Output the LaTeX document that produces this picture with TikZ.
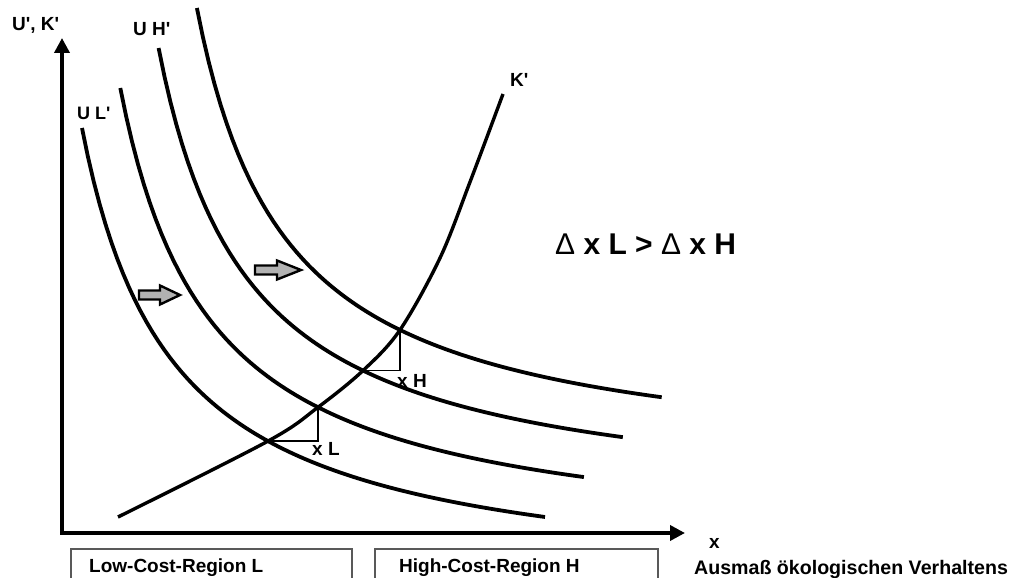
\documentclass[tikz,border=0pt]{standalone}
\usepackage{fontspec}
\setmainfont[Ligatures=NoCommon]{Liberation Sans}
\usetikzlibrary{arrows.meta}
\newcommand{\ap}{\textquotesingle}
\tikzset{
  curve/.style={line width=3.8pt},
  axis/.style={line width=3.6pt},
  tri/.style={line width=1.3pt},
  blockarrow/.style={fill=black!30, draw=black, line width=2.4pt, line join=miter},
  region/.style={draw=black!65, line width=1.5pt},
  lab/.style={anchor=base west, inner sep=0pt, font=\fontsize{19}{22}\selectfont\bfseries},
  biglab/.style={anchor=base west, inner sep=0pt, font=\fontsize{30}{34}\selectfont\bfseries},
}
\begin{document}
\begin{tikzpicture}[x=1pt,y=-1pt]
\useasboundingbox (0,0) rectangle (1013,578);
% axes
\draw[axis, {Triangle[length=15pt,width=15pt]}-{Triangle[length=15pt,width=15pt]}]
  (62,38) -- (62,533) -- (685,533);
% indifference-type curves
\foreach \i in {0,...,3}{
  \pgfmathsetmacro{\bb}{-8+38.3*\i}
  \pgfmathsetmacro{\aa}{592.6-40*\i}
  \pgfmathsetmacro{\xs}{82+38.3*\i}
  \pgfmathsetmacro{\xe}{545+38.9*\i}
  \draw[curve] plot[domain=\xs:\xe, samples=80] (\x, {\aa - 418.14/((\x-\bb)/100)});
}
% intersection points
\coordinate (I1) at (268,{592.6-418.14/((268+8)/100)});
\coordinate (I2) at (318,{552.6-418.14/((318-30.3)/100)});
\coordinate (I3) at (363,{512.6-418.14/((363-68.6)/100)});
\coordinate (I4) at (400,{472.6-418.14/((400-106.9)/100)});
\coordinate (K0) at (118,517);
\coordinate (K1) at (440,258);
\coordinate (K2) at (470,182);
\coordinate (K3) at (503,94);
% K' curve
\draw[curve, line width=3.4pt] plot[smooth, tension=0.55] coordinates {(K0) (I1) (I2) (I3) (I4) (K1) (K2) (K3)};
% triangles
\draw[tri] (I1) -| (I2);
\draw[tri] (I3) -| (I4);
% block arrows
\draw[blockarrow] (139,290.5) -- (160,290.5) -- (160,285.5) -- (180,295) -- (160,304.5) -- (160,299.5) -- (139,299.5) -- cycle;
\draw[blockarrow] (255,265.5) -- (277,265.5) -- (277,260.5) -- (301,270) -- (277,279.5) -- (277,274.5) -- (255,274.5) -- cycle;
% labels
\node[lab] (yl) at (12,31) {U\ap, K\ap};
\node[lab] (uh) at (133,36) {U H\ap};
\node[lab, font=\fontsize{18}{22}\selectfont\bfseries] (ul) at (77,119) {U L\ap};
\node[lab] (kl) at (510,87) {K\ap};
\node[lab] (xh) at (397,387) {x H};
\node[lab] (xl) at (312,455) {x L};
\node[lab] (xax) at (709,548) {x};
\node[biglab] (rel) at (555,254) {{\mdseries Δ} x L > {\mdseries Δ} x H};
% region boxes
\draw[region] (71,585) |- (352,549) -- (352,585);
\draw[region] (375,585) |- (658,549) -- (658,585);
\node[lab] (low) at (89,572) {Low-Cost-Region L};
\node[lab] (high) at (399,572) {High-Cost-Region H};
\node[lab, font=\fontsize{19.6}{22}\selectfont\bfseries] (aus) at (694,574) {Ausmaß ökologischen Verhaltens};
\end{tikzpicture}
\end{document}
